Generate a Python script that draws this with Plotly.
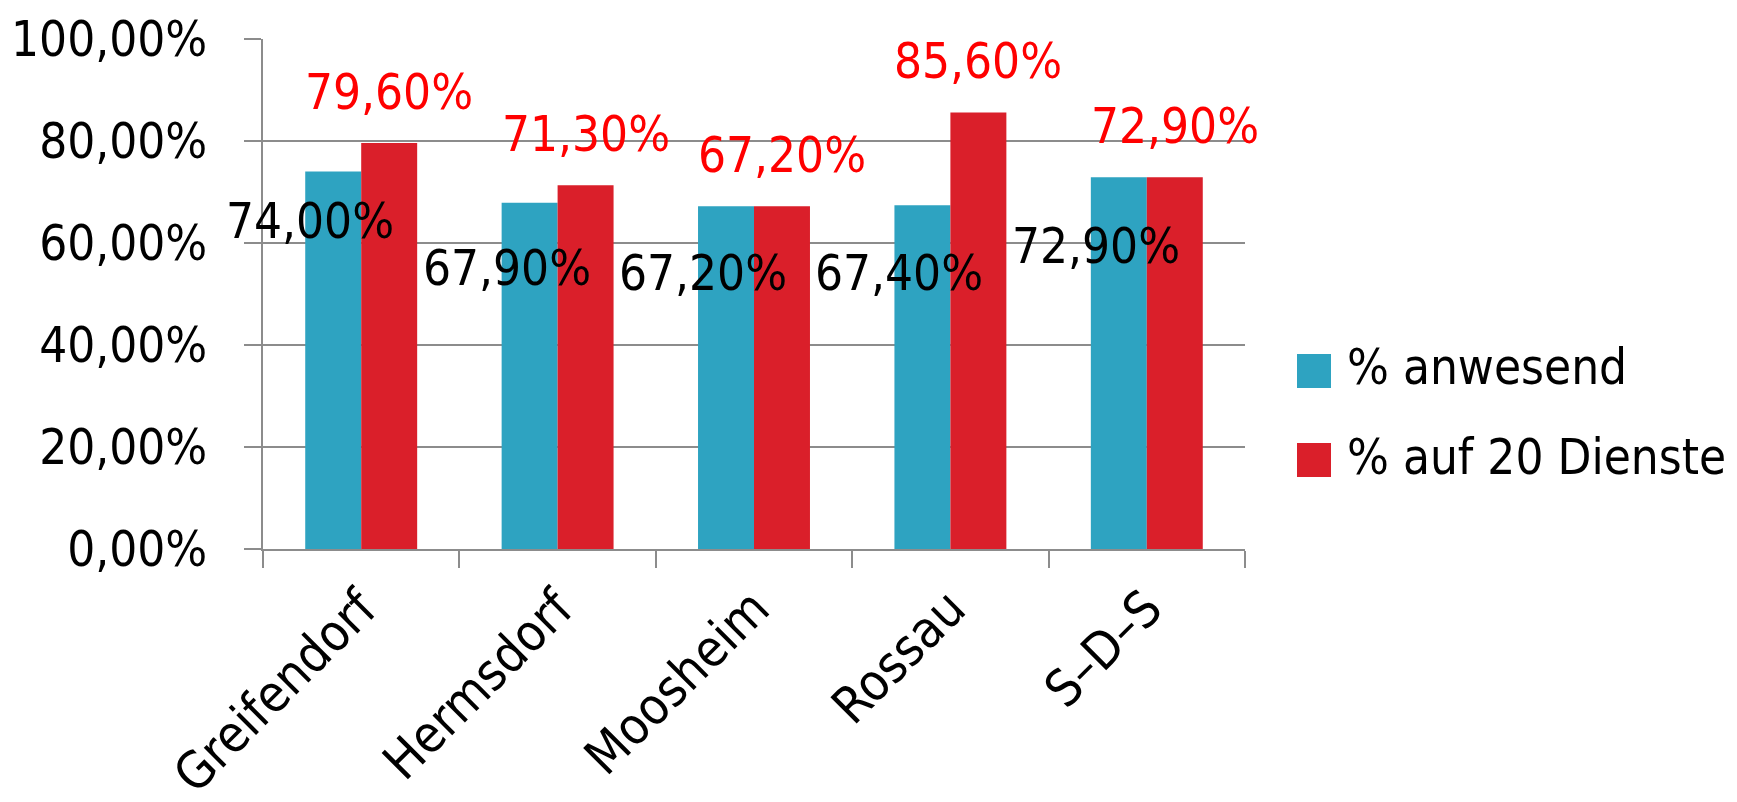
import plotly.graph_objects as go

categories = ["Greifendorf", "Hermsdorf", "Moosheim", "Rossau", "S–D–S"]
series_names = ["% anwesend", "% auf 20 Dienste"]
anwesend = [74.0, 67.9, 67.2, 67.4, 72.9]
auf20 = [79.6, 71.3, 67.2, 85.6, 72.9]
y_ticks = [0, 20, 40, 60, 80, 100]
y_tick_labels = ["0,00%", "20,00%", "40,00%", "60,00%", "80,00%", "100,00%"]

TEAL = "#2EA3C1"
RED = "#DA1F2A"
GRID = "#8C8C8C"
FONT = "DejaVu Sans Condensed, DejaVu Sans, sans-serif"
FS = 49

W, H = 1737, 802
OFF = 8  # default page body margin
L, R, T, B = 263, 1245, 39, 549  # target plot box in screenshot pixels


def px_x(p):
    return (p - L) / (R - L)


def px_y(p):
    return (B - p) / (B - T)


def fmt(v):
    return f"{v:.2f}".replace(".", ",") + "%"


fig = go.Figure()
fig.add_trace(go.Bar(x=categories, y=anwesend, name=series_names[0],
                     marker=dict(color=TEAL, line=dict(width=0)), showlegend=False))
fig.add_trace(go.Bar(x=categories, y=auf20, name=series_names[1],
                     marker=dict(color=RED, line=dict(width=0)), showlegend=False))

annotations = []
black_shift = [-50, -66, -67, -68, -69]
for i, c in enumerate(categories):
    annotations.append(dict(x=c, y=anwesend[i], xref="x", yref="y", text=fmt(anwesend[i]),
                            showarrow=False, xshift=-51, yshift=black_shift[i],
                            xanchor="center", yanchor="middle",
                            font=dict(family=FONT, size=FS, color="#000000")))
    annotations.append(dict(x=c, y=auf20[i], xref="x", yref="y", text=fmt(auf20[i]),
                            showarrow=False, xshift=28, yshift=51,
                            xanchor="center", yanchor="middle",
                            font=dict(family=FONT, size=FS, color="#FF0000")))

# custom legend (large square swatches)
shapes = []
leg_rows = [371, 460]
for name, col, cy in zip(series_names, [TEAL, RED], leg_rows):
    shapes.append(dict(type="rect", xref="paper", yref="paper",
                       x0=px_x(1297), x1=px_x(1331), y0=px_y(cy + 17), y1=px_y(cy - 17),
                       fillcolor=col, line=dict(width=0)))
    annotations.append(dict(x=px_x(1345), y=px_y(cy - 3), xref="paper", yref="paper",
                            text=name, showarrow=False, xanchor="left", yanchor="middle",
                            font=dict(family=FONT, size=FS, color="#000000")))

fig.update_layout(
    width=W, height=H,
    margin=dict(l=L - OFF, r=W - (R - OFF), t=T - OFF, b=H - (B - OFF), pad=0, autoexpand=False),
    paper_bgcolor="white", plot_bgcolor="white",
    barmode="group", bargap=0.43, bargroupgap=0,
    showlegend=False,
    font=dict(family=FONT, size=FS, color="#000000"),
    annotations=annotations,
    shapes=shapes,
    xaxis=dict(
        type="category", range=[-0.5, len(categories) - 0.5], tickangle=-45, tickson="boundaries",
        ticks="outside", ticklen=17, tickwidth=2, tickcolor=GRID,
        showline=True, linecolor=GRID, linewidth=2, ticklabelstandoff=7,
        showgrid=False, tickfont=dict(family=FONT, size=51, color="#000000"),
    ),
    yaxis=dict(
        range=[0, 100], tickmode="array", tickvals=y_ticks, ticktext=y_tick_labels,
        ticks="outside", ticklen=17, tickwidth=2, tickcolor=GRID,
        showline=True, linecolor=GRID, linewidth=2,
        showgrid=True, gridcolor=GRID, gridwidth=2, zeroline=False,
        ticklabelstandoff=27,
        tickfont=dict(family=FONT, size=FS, color="#000000"),
    ),
)

fig.write_html("out.html")
